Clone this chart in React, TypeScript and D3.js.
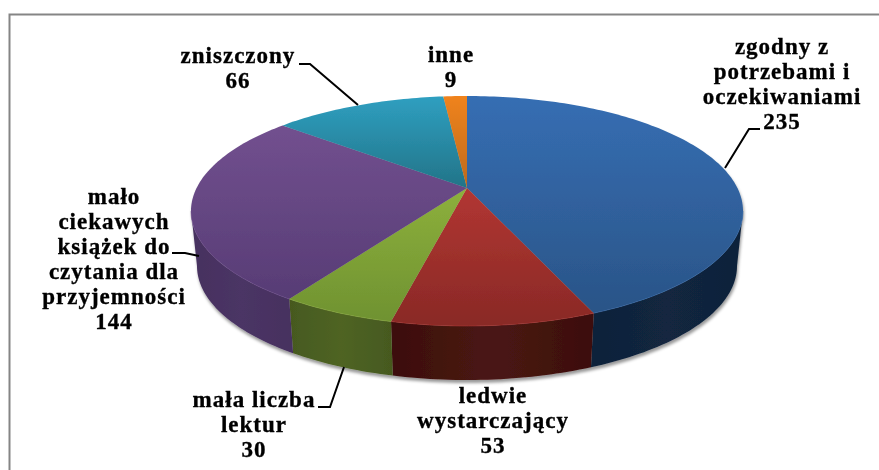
import React from "react";
import * as d3 from "d3";

const categories = ["zgodny z potrzebami i oczekiwaniami", "ledwie wystarczający", "mała liczba lektur", "mało ciekawych książek do czytania dla przyjemności", "zniszczony", "inne"];
const values = [235, 53, 30, 144, 66, 9];
const topLight = ["#366eb3", "#b23632", "#8db03c", "#72508f", "#2f9fc0", "#f0831f"];
const topDark = ["#2a5487", "#892926", "#6f9231", "#573c75", "#227488", "#bd6a1f"];
const sideEdge = ["#10223a", "#3c0f0d", "#46591f", "#46305f", "#1b5a6b", "#8a4a12"];
const sideMid = ["#12263f", "#4a1613", "#4f6424", "#4b3565", "#1f6a7e", "#a05a18"];

const W = 879, H = 470;
const CX = 467, TOP_CY = 211, RX = 276, RY = 115;
const BOT_CY = 266, BOT_RX = 270, BOT_RY = 114;
const PIE_CY = 188;
const t0 = (PIE_CY - TOP_CY) / RY;

// perspective map of the unit disc on to an ellipse, sending disc centre to the pie centre
const disc = (a: number): [number, number] => {
  const u = Math.sin(a), v = -Math.cos(a);
  const d = 1 + t0 * v;
  return [(u * Math.sqrt(1 - t0 * t0)) / d, (v + t0) / d];
};
const xTop = d3.scaleLinear().domain([-1, 1]).range([CX - RX, CX + RX]);
const yTop = d3.scaleLinear().domain([-1, 1]).range([TOP_CY - RY, TOP_CY + RY]);
const xBot = d3.scaleLinear().domain([-1, 1]).range([CX - BOT_RX, CX + BOT_RX]);
const yBot = d3.scaleLinear().domain([-1, 1]).range([BOT_CY - BOT_RY, BOT_CY + BOT_RY]);
const topPt = (a: number): [number, number] => { const [s, t] = disc(a); return [xTop(s), yTop(t)]; };
const botPt = (a: number): [number, number] => { const [s, t] = disc(a); return [xBot(s), yBot(t)]; };
const samples = (a0: number, a1: number) => {
  const n = Math.max(2, Math.ceil(Math.abs(a1 - a0) / 0.02));
  return d3.range(n + 1).map((i) => a0 + ((a1 - a0) * i) / n);
};
const line = d3.line<[number, number]>();
const arcs = d3.pie<number>().sort(null).startAngle(0).endAngle(2 * Math.PI)(values);
const A_MIN = Math.acos(t0); // tangent angle of the silhouette
const A_MAX = 2 * Math.PI - A_MIN;

const labels = [
  { lines: ["zgodny z", "potrzebami i", "oczekiwaniami", "235"], x: 782, y: 54 },
  { lines: ["ledwie", "wystarczający", "53"], x: 493, y: 403 },
  { lines: ["mała liczba", "lektur", "30"], x: 254, y: 407 },
  { lines: ["mało", "ciekawych", "książek do", "czytania dla", "przyjemności", "144"], x: 114, y: 204 },
  { lines: ["zniszczony", "66"], x: 238, y: 63 },
  { lines: ["inne", "9"], x: 451, y: 62 },
];
const leaders: [number, number][][] = [
  [[760, 129], [749, 129], [725, 168]],
  [[318, 407], [330, 407], [344, 367]],
  [[172, 253], [185, 253], [199, 256]],
  [[299, 64], [310, 64], [358, 105]],
];

export default function App() {
  return (
    <svg width={W} height={H} viewBox={`0 0 ${W} ${H}`} style={{ position: "absolute", left: 0, top: 0, background: "#fff" }}>
      <defs>
        <filter id="soft" x="-5%" y="-5%" width="110%" height="110%"><feGaussianBlur stdDeviation="0.45" /></filter>
        <filter id="shadow" x="-10%" y="-10%" width="120%" height="125%">
          <feDropShadow dx="1" dy="3" stdDeviation="1.5" floodColor="#000" floodOpacity="0.4" />
        </filter>
        {arcs.map((d, i) => (
          <linearGradient key={i} id={`top${i}`} x1="0" y1="0" x2="0" y2="1">
            <stop offset="0" stopColor={topLight[i]} />
            <stop offset="1" stopColor={topDark[i]} />
          </linearGradient>
        ))}
        {arcs.map((d, i) => (
          <linearGradient key={i} id={`side${i}`} x1="0" y1="0" x2="1" y2="0">
            <stop offset="0" stopColor={sideEdge[i]} />
            <stop offset="0.5" stopColor={sideMid[i]} />
            <stop offset="1" stopColor={sideEdge[i]} />
          </linearGradient>
        ))}
      </defs>
      <g filter="url(#soft)">
        <path d={`M9.5 ${H} V14.5 H${W}`} fill="none" stroke="#858585" strokeWidth={2} />
        <g filter="url(#shadow)">
          {arcs.map((d, i) => {
            const a0 = Math.max(d.startAngle, A_MIN), a1 = Math.min(d.endAngle, A_MAX);
            if (a1 <= a0) return null;
            const angs = samples(a0, a1);
            const pts = [...angs.map(topPt), ...angs.slice().reverse().map(botPt)];
            return <path key={i} d={line(pts) + "Z"} fill={`url(#side${i})`} />;
          })}
          {arcs.map((d, i) => {
            const pts = [[CX, PIE_CY] as [number, number], ...samples(d.startAngle, d.endAngle).map(topPt)];
            return <path key={i} d={line(pts) + "Z"} fill={`url(#top${i})`} />;
          })}
        </g>
        {arcs.map((d, i) => {
          const a0 = Math.max(d.startAngle, A_MIN), a1 = Math.min(d.endAngle, A_MAX);
          if (a1 <= a0) return null;
          return <path key={i} d={line(samples(a0, a1).map(topPt)) ?? ""} fill="none" stroke={topLight[i]} strokeOpacity={0.5} strokeWidth={1} />;
        })}
        {leaders.map((p, i) => (
          <path key={i} d={line(p) ?? ""} fill="none" stroke="#000" strokeWidth={2} />
        ))}
        {labels.map((l, i) => (
          <text key={i} textAnchor="middle" fontFamily="'Liberation Serif', serif" fontWeight="700" fontSize={23} letterSpacing={1} stroke="#000" strokeWidth={0.35} fill="#000">
            {l.lines.map((t, j) => (
              <tspan key={j} x={l.x} y={l.y + j * 25}>{t}</tspan>
            ))}
          </text>
        ))}
      </g>
    </svg>
  );
}
